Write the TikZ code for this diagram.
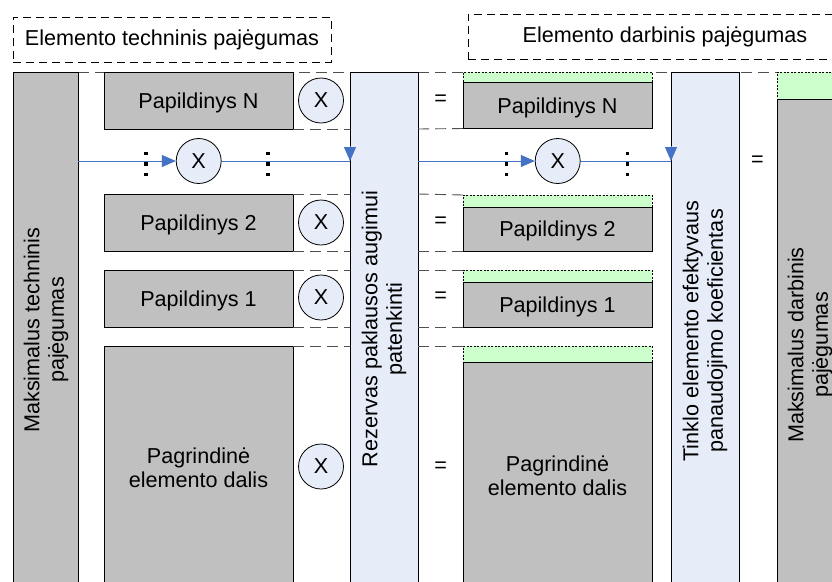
\documentclass[tikz,border=0pt]{standalone}
\usepackage{fontspec}
\setmainfont{Liberation Sans}
\usetikzlibrary{arrows.meta}
\definecolor{boxgray}{HTML}{C0C0C0}
\definecolor{lblue}{HTML}{E6ECF8}
\definecolor{lgreen}{HTML}{CCFFCC}
\definecolor{arrblue}{HTML}{4472C4}
\definecolor{dgray}{HTML}{505050}
\begin{document}
\begin{tikzpicture}[x=1pt,y=-1pt, font=\fontsize{21.6}{24.5}\selectfont,
  graybox/.style={draw=black, fill=boxgray, line width=0.9pt, inner sep=0pt, outer sep=0pt},
  bluebar/.style={draw=black, fill=lblue, line width=0.9pt, inner sep=0pt, outer sep=0pt},
  greenstrip/.style={draw=black, fill=lgreen, line width=0.8pt, dash pattern=on 2pt off 1.5pt, inner sep=0pt, outer sep=0pt},
  hdr/.style={draw=black, dash pattern=on 8pt off 5pt, line width=0.9pt, inner sep=0pt},
  guide/.style={draw=dgray, line width=0.9pt, dash pattern=on 11pt off 6pt},
  xcirc/.style={circle, draw=black, fill=lblue, line width=0.8pt, minimum size=45pt, inner sep=0pt, text depth=0pt},
  flow/.style={draw=arrblue, line width=1pt},
  tip/.style={-{Triangle[length=14pt,width=12pt]}},
  vtxt/.style={rotate=90, align=center, inner sep=0pt},
  lbl/.style={text depth=0pt},
  vdot/.style={fill=black, minimum size=3.5pt, inner sep=0pt},
]
\clip (0,0) rectangle (832,581);
\fill[white] (0,0) rectangle (832,581);

% headers
\node[hdr, minimum width=318, minimum height=45] (hdrT) at (172,39.5) {Elemento techninis pajėgumas};
\node[hdr, minimum width=394, minimum height=45] (hdrD) at (665,36.5) {Elemento darbinis pajėgumas};

% top guide line
\coordinate (g0) at (78,72);
\coordinate (g1) at (832,72);
\draw[guide] (g0) -- (g1);

% bars
\node[graybox, minimum width=65, minimum height=518] (mt) at (45.5,331) {};
\node[vtxt] (mtT) at (46,330) {Maksimalus techninis\\pajėgumas};
\node[bluebar, minimum width=68, minimum height=518] (rz) at (384,331) {};
\node[vtxt] (rzT) at (384,329) {Rezervas paklausos augimui\\patenkinti};
\node[bluebar, minimum width=68, minimum height=518] (tk) at (705,331) {};
\node[vtxt] (tkT) at (705,331) {Tinklo elemento efektyvaus\\panaudojimo koeficientas};
\node[greenstrip, minimum width=66, minimum height=27] (mdg) at (810,85.5) {};
\node[graybox, minimum width=66, minimum height=492] (md) at (810,345) {};
\node[vtxt] (mdT) at (810,345) {Maksimalus darbinis\\pajėgumas};

% left boxes
\node[graybox, lbl, minimum width=189, minimum height=57] (pN) at (198.5,100.5) {Papildinys N};
\node[graybox, lbl, minimum width=189, minimum height=57] (p2) at (198.5,222.5) {Papildinys 2};
\node[graybox, lbl, minimum width=189, minimum height=57] (p1) at (198.5,298.5) {Papildinys 1};
\node[graybox, minimum width=189, minimum height=244, align=center] (pP) at (198.5,468) {Pagrindinė\\elemento dalis};

% right boxes
\node[graybox, lbl, minimum width=189, minimum height=46.5] (qN) at (557.5,105.25) {Papildinys N};
\node[greenstrip, minimum width=189, minimum height=10] (qNg) at (557.5,77) {};
\node[graybox, lbl, minimum width=189, minimum height=44] (q2) at (557.5,229) {Papildinys 2};
\node[greenstrip, minimum width=189, minimum height=12] (q2g) at (557.5,201) {};
\node[graybox, lbl, minimum width=189, minimum height=45] (q1) at (557.5,304.5) {Papildinys 1};
\node[greenstrip, minimum width=189, minimum height=12] (q1g) at (557.5,276) {};
\node[graybox, minimum width=189, minimum height=228, align=center] (qP) at (557.5,476) {Pagrindinė\\elemento dalis};
\node[greenstrip, minimum width=189, minimum height=16] (qPg) at (557.5,354) {};

% guide lines around multipliers and equals
\foreach \b in {pN,p2,p1}{
  \draw[guide] (\b.south east) -- (rz.west |- \b.south east);
}
\foreach \b in {p2,p1,pP}{
  \draw[guide] (\b.north east) -- (rz.west |- \b.north east);
}
\draw[guide] (rz.east |- pN.south) -- (qN.south west);
\draw[guide] (rz.east |- p2.north) -- (q2g.north west);
\draw[guide] (rz.east |- p2.south) -- (q2.south west);
\draw[guide] (rz.east |- p1.north) -- (q1g.north west);
\draw[guide] (rz.east |- p1.south) -- (q1.south west);
\draw[guide] (rz.east |- pP.north) -- (qPg.north west);

% multipliers
\node[xcirc] (xN) at (321,100.5) {X};
\node[xcirc] (x2) at (321,222.5) {X};
\node[xcirc] (x1) at (321,297.5) {X};
\node[xcirc] (xP) at (321,466.5) {X};

% equals
\node[lbl] (eN) at (440.7,100) {=};
\node[lbl] (e2) at (440.7,222) {=};
\node[lbl] (e1) at (440.7,297) {=};
\node[lbl] (eP) at (440.7,467) {=};
\node[lbl] (eR) at (757.3,161) {=};

% flow row
\node[xcirc] (c1) at (198.7,161) {X};
\node[xcirc] (c2) at (557.7,161) {X};
\draw[flow, tip] (mt.east |- c1) -- (c1.west);
\draw[flow] (c1.east) -- (rz.west |- c1);
\draw[flow, tip] ([yshift=15pt]rz.west |- c1) -- (rz.west |- c1);
\draw[flow, tip] (rz.east |- c2) -- (c2.west);
\draw[flow] (c2.east) -- (tk.west |- c2);
\draw[flow, tip] ([yshift=15pt]tk.west |- c2) -- (tk.west |- c2);

% vertical dots
\foreach \x/\n in {146/a,268/b,506.7/c,627.3/d}{
  \foreach \y/\m in {153.5/1,164/2,174.5/3}{
    \node[vdot] (dot\n\m) at (\x,\y) {};
  }
}
\end{tikzpicture}
\end{document}
